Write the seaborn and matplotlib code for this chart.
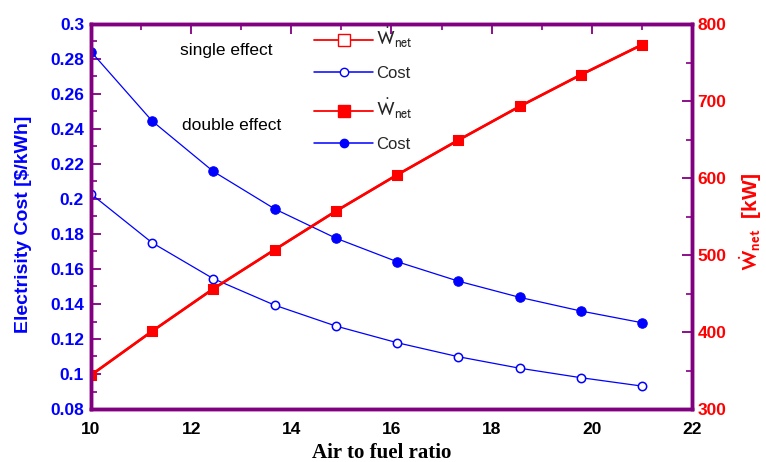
import matplotlib
matplotlib.use("Agg")
import matplotlib.pyplot as plt
import seaborn as sns
import numpy as np
import pandas as pd
from matplotlib.lines import Line2D
from matplotlib.ticker import MultipleLocator

# ---- data ----
afr = [10.0, 11.22, 12.44, 13.67, 14.89, 16.11, 17.33, 18.56, 19.78, 21.0]
cost_single = [0.2029, 0.1750, 0.1545, 0.1393, 0.1274, 0.1179, 0.1099, 0.1033, 0.0979, 0.0931]
cost_double = [0.2842, 0.2446, 0.2158, 0.1943, 0.1776, 0.1642, 0.1531, 0.1438, 0.1360, 0.1293]
wnet_single = [344, 401, 456, 507, 557, 604, 649, 693, 734, 773]
wnet_double = [344, 401, 456, 507, 557, 604, 649, 693, 734, 773]

x_ticks = [10, 12, 14, 16, 18, 20, 22]
cost_ticks = [0.08, 0.1, 0.12, 0.14, 0.16, 0.18, 0.2, 0.22, 0.24, 0.26, 0.28, 0.3]
cost_tick_labels = ["0.08", "0.1", "0.12", "0.14", "0.16", "0.18", "0.2", "0.22", "0.24", "0.26", "0.28", "0.3"]
w_ticks = [300, 400, 500, 600, 700, 800]

sns.set_theme(style="white")
plt.rcParams['font.family'] = ['Liberation Sans', 'DejaVu Sans']
plt.rcParams['mathtext.fontset'] = 'stixsans'

PURPLE = '#800080'
BLUE = '#0000ff'
RED = '#ff0000'

fig = plt.figure(figsize=(7.66, 4.62), dpi=100)
ax = fig.add_axes([91/766, 53/462, 601/766, 385/462])
ax2 = ax.twinx()

df = pd.DataFrame({'afr': afr, 'cs': cost_single, 'cd': cost_double,
                   'ws': wnet_single, 'wd': wnet_double})

sns.lineplot(data=df, x='afr', y='cs', ax=ax, color=BLUE, lw=0.9, marker='o',
             markersize=6, markerfacecolor='white', markeredgecolor=BLUE, markeredgewidth=1.1)
sns.lineplot(data=df, x='afr', y='cd', ax=ax, color=BLUE, lw=0.9, marker='o',
             markersize=6.8, markerfacecolor=BLUE, markeredgecolor=BLUE)
sns.lineplot(data=df, x='afr', y='ws', ax=ax2, color=RED, lw=1.8, marker='s',
             markersize=7.5, markerfacecolor='white', markeredgecolor=RED)
sns.lineplot(data=df, x='afr', y='wd', ax=ax2, color=RED, lw=1.8, marker='s',
             markersize=7.5, markerfacecolor=RED, markeredgecolor=RED)

ax.set_xlim(10, 22)
ax.set_ylim(0.08, 0.3)
ax2.set_ylim(300, 800)
ax.set_xticks(x_ticks)
ax.set_xticklabels([str(t) for t in x_ticks], fontweight='bold', fontsize=12.5, color='black')
ax.xaxis.set_minor_locator(MultipleLocator(1))
ax.set_yticks(cost_ticks)
ax.set_yticklabels(cost_tick_labels, fontweight='bold', fontsize=12.5, color=BLUE)
ax.yaxis.set_minor_locator(MultipleLocator(0.01))
ax2.set_yticks(w_ticks)
ax2.set_yticklabels([str(t) for t in w_ticks], fontweight='bold', fontsize=12.5, color=RED)
ax2.yaxis.set_minor_locator(MultipleLocator(50))

ax.tick_params(axis='both', which='major', direction='in', length=7, width=1.3, color=PURPLE, pad=5)
ax.tick_params(axis='both', which='minor', direction='in', length=4, width=1.2, color=PURPLE)
ax.tick_params(axis='x', which='major', pad=9)
ax.tick_params(axis='x', which='both', top=True)
ax.tick_params(axis='y', which='both', left=True)
ax2.tick_params(axis='y', which='major', direction='in', length=7, width=1.3, color=PURPLE, pad=4, right=True)
ax2.tick_params(axis='y', which='minor', direction='in', length=4, width=1.2, color=PURPLE, right=True)

for a in (ax, ax2):
    for s in a.spines.values():
        s.set_color(PURPLE)
        s.set_linewidth(2.5)
    a.grid(False)

ax.set_xlabel('Air to fuel ratio', fontsize=15, fontweight='bold',
              family='Liberation Serif', color='black', labelpad=5)
ax.xaxis.label.set_x((382 - 91) / 601)
ax.set_ylabel('Electrisity Cost [$/kWh]', fontsize=14, fontweight='bold', color=BLUE, labelpad=13)
ax.yaxis.label.set_y((409 - 224) / 385)
ax2.set_ylabel(r'$\dot{\mathbf{W}}_{\mathbf{net}}$  [kW]', fontsize=15, fontweight='bold',
               color=RED, rotation=90, labelpad=8)
ax2.yaxis.label.set_y((409 - 222) / 385)

# legend
handles = [
    Line2D([], [], color=RED, lw=1.3, marker='s', markersize=8, markerfacecolor='white', markeredgecolor=RED),
    Line2D([], [], color=BLUE, lw=1.1, marker='o', markersize=6, markerfacecolor='white', markeredgecolor=BLUE),
    Line2D([], [], color=RED, lw=1.3, marker='s', markersize=8, markerfacecolor=RED, markeredgecolor=RED),
    Line2D([], [], color=BLUE, lw=1.1, marker='o', markersize=6, markerfacecolor=BLUE, markeredgecolor=BLUE),
]
labels = [r'$\dot{\mathrm{W}}_{\mathrm{net}}$', 'Cost', r'$\dot{\mathrm{W}}_{\mathrm{net}}$', 'Cost']
leg = ax2.legend(handles, labels, loc='upper left', bbox_to_anchor=(306/766, 1 - 18/462),
                 bbox_transform=fig.transFigure, frameon=False, fontsize=12,
                 handlelength=3.5, labelspacing=0.95, handletextpad=0.2, borderpad=0)
for i in (0, 2):
    leg.get_texts()[i].set_fontsize(14)

fig.text(180/766, 1 - 51/462, 'single effect', fontsize=12.5, color='black', va='center', ha='left')
fig.text(182/766, 1 - 125/462, 'double effect', fontsize=12.5, color='black', va='center', ha='left')

fig.savefig('out.png', dpi=100)
